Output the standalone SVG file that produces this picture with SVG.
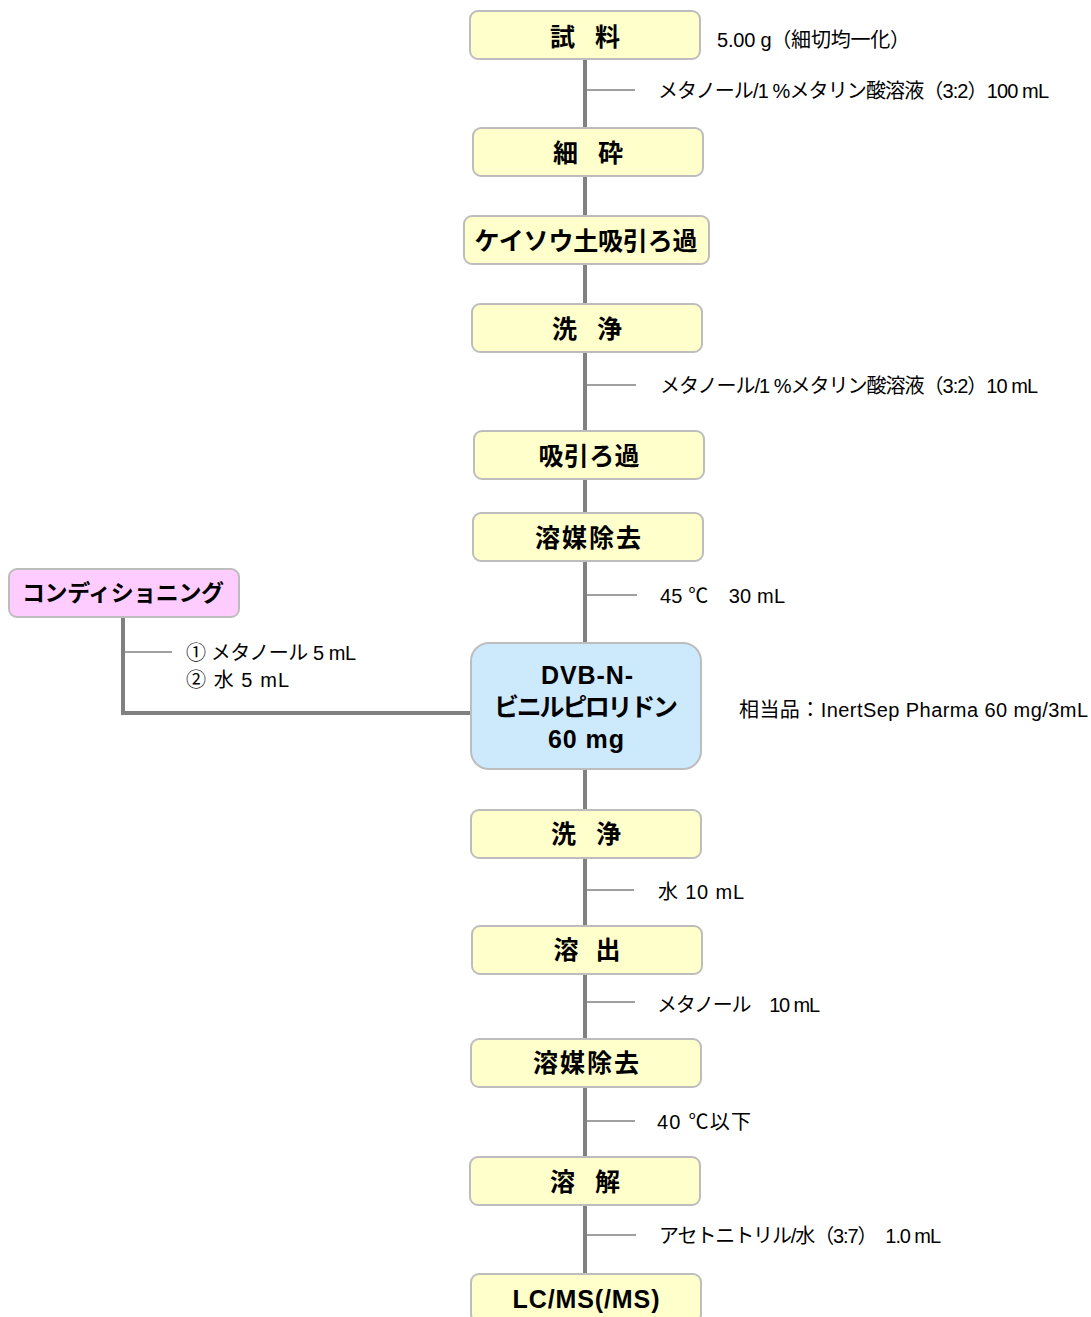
<svg xmlns="http://www.w3.org/2000/svg" width="1091" height="1317" viewBox="0 0 1091 1317">
<style>
.box{fill:#ffffcc;stroke:#bdbdbd;stroke-width:2}
.blue{fill:#cdeafd;stroke:#bdbdbd;stroke-width:2}
.pink{fill:#ffccff;stroke:#bdbdbd;stroke-width:2}
.t{font-family:"Liberation Sans","Noto Sans CJK JP",sans-serif;font-weight:bold;font-size:25px;fill:#000;text-anchor:middle}
.l{font-family:"Liberation Sans","Noto Sans CJK JP",sans-serif;font-size:20px;fill:#000}
.main{stroke:#808080;stroke-width:4;fill:none}
.br{stroke:#808080;stroke-width:1.5;fill:none}
</style>
<g id="connectors">
<line class="main" x1="585" y1="59" x2="585" y2="1274"/>
<path class="main" d="M123,617 V713 H471"/>
<line class="br" x1="585" y1="90" x2="635" y2="90"/>
<line class="br" x1="585" y1="385" x2="636" y2="385"/>
<line class="br" x1="585" y1="595" x2="637" y2="595"/>
<line class="br" x1="585" y1="890" x2="634" y2="890"/>
<line class="br" x1="585" y1="1002" x2="635" y2="1002"/>
<line class="br" x1="585" y1="1121" x2="635" y2="1121"/>
<line class="br" x1="585" y1="1235" x2="636" y2="1235"/>
<line class="br" x1="123" y1="652" x2="172" y2="652"/>
</g>
<g id="n1"><rect class="box" x="470" y="11" width="230" height="48" rx="8"/><text class="t" x="585" y="46" textLength="70" lengthAdjust="spacing">試　料</text></g>
<g id="n2"><rect class="box" x="473" y="128" width="230" height="48" rx="8"/><text class="t" x="588" y="162" textLength="70" lengthAdjust="spacing">細　砕</text></g>
<g id="n3"><rect class="box" x="464" y="216" width="245" height="48" rx="8"/><text class="t" x="586" y="250" textLength="223" lengthAdjust="spacing">ケイソウ土吸引ろ過</text></g>
<g id="n4"><rect class="box" x="472" y="304" width="230" height="48" rx="8"/><text class="t" x="587" y="338" textLength="70" lengthAdjust="spacing">洗　浄</text></g>
<g id="n5"><rect class="box" x="474" y="431" width="230" height="48" rx="8"/><text class="t" x="589" y="465" textLength="101" lengthAdjust="spacing">吸引ろ過</text></g>
<g id="n6"><rect class="box" x="473" y="513" width="230" height="48" rx="8"/><text class="t" x="588" y="547" textLength="106" lengthAdjust="spacing">溶媒除去</text></g>
<g id="n7"><rect class="pink" x="9" y="569" width="230" height="48" rx="8"/><text class="t" x="123" y="601" style="font-size:23px" textLength="202" lengthAdjust="spacing">コンディショニング</text></g>
<g id="n8"><rect class="blue" x="471" y="643" width="230" height="126" rx="18"/>
<text class="t" x="587" y="684" textLength="92" lengthAdjust="spacing">DVB-N-</text>
<text class="t" x="586" y="716" textLength="184" lengthAdjust="spacing">ビニルピロリドン</text>
<text class="t" x="586" y="748" textLength="76" lengthAdjust="spacing">60 mg</text></g>
<g id="n9"><rect class="box" x="471" y="810" width="230" height="48" rx="8"/><text class="t" x="586" y="843" textLength="70" lengthAdjust="spacing">洗　浄</text></g>
<g id="n10"><rect class="box" x="472" y="926" width="230" height="48" rx="8"/><text class="t" x="587" y="959" textLength="67" lengthAdjust="spacing">溶　出</text></g>
<g id="n11"><rect class="box" x="471" y="1039" width="230" height="48" rx="8"/><text class="t" x="586" y="1072" textLength="106" lengthAdjust="spacing">溶媒除去</text></g>
<g id="n12"><rect class="box" x="470" y="1157" width="230" height="48" rx="8"/><text class="t" x="585" y="1191" textLength="70" lengthAdjust="spacing">溶　解</text></g>
<g id="n13"><rect class="box" x="471" y="1274" width="230" height="48" rx="8"/><text class="t" x="586" y="1308" textLength="147" lengthAdjust="spacing">LC/MS(/MS)</text></g>
<g id="labels">
<text class="l" x="717" y="47" textLength="193" lengthAdjust="spacing">5.00 g（細切均一化）</text>
<text class="l" x="658" y="98" textLength="391" lengthAdjust="spacing">メタノール/1 %メタリン酸溶液（3:2）100 mL</text>
<text class="l" x="660" y="393" textLength="378" lengthAdjust="spacing">メタノール/1 %メタリン酸溶液（3:2）10 mL</text>
<text class="l" x="660" y="603" textLength="125" lengthAdjust="spacing">45 ℃　30 mL</text>
<text class="l" x="186" y="660" textLength="170" lengthAdjust="spacing">① メタノール 5 mL</text>
<text class="l" x="186" y="687" textLength="103" lengthAdjust="spacing">② 水 5 mL</text>
<text class="l" x="739" y="717" textLength="349" lengthAdjust="spacing">相当品：InertSep Pharma 60 mg/3mL</text>
<text class="l" x="658" y="899" textLength="86" lengthAdjust="spacing">水 10 mL</text>
<text class="l" x="657" y="1012" textLength="163" lengthAdjust="spacing">メタノール　10 mL</text>
<text class="l" x="657" y="1129" textLength="94" lengthAdjust="spacing">40 ℃以下</text>
<text class="l" x="659" y="1243" textLength="282" lengthAdjust="spacing">アセトニトリル/水（3:7）　1.0 mL</text>
</g>
</svg>
